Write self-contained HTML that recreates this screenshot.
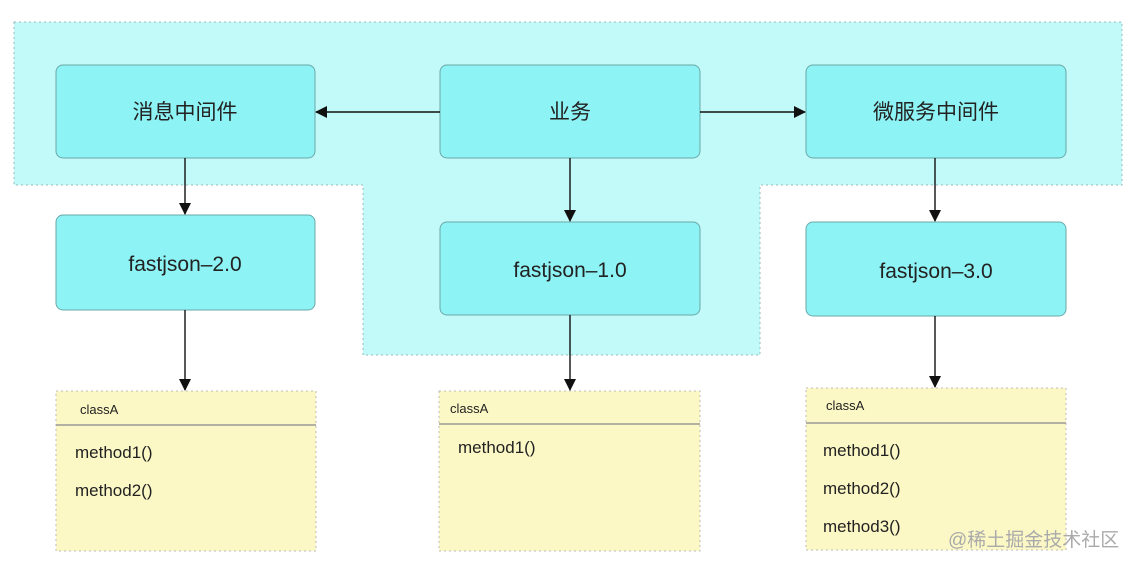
<!DOCTYPE html>
<html><head><meta charset="utf-8"><style>
body{margin:0;background:#fff;width:1143px;height:569px;overflow:hidden;font-family:"Liberation Sans","Noto Sans CJK SC",sans-serif}
</style></head><body>
<svg width="1143" height="569" xmlns="http://www.w3.org/2000/svg" style="position:absolute;left:0;top:0">
<defs><marker id="a" markerWidth="12" markerHeight="12" refX="11" refY="6" orient="auto" markerUnits="userSpaceOnUse"><path d="M0,0 L12,6 L0,12 z" fill="#111"/></marker></defs>
<path d="M14,22 H1122 V185 H760 V355 H363 V185 H14 Z" fill="#c2f9f9" stroke="#9bb" stroke-dasharray="2,3"/>
<g fill="#8ef3f5" stroke="#6aa8a8" stroke-width="1">
<rect x="56" y="65" width="259" height="93" rx="7"/>
<rect x="440" y="65" width="260" height="93" rx="7"/>
<rect x="806" y="65" width="260" height="93" rx="7"/>
<rect x="56" y="215" width="259" height="95" rx="7"/>
<rect x="440" y="222" width="260" height="93" rx="7"/>
<rect x="806" y="222" width="260" height="94" rx="7"/>
</g>
<g fill="#fcf8c6" stroke="#bbb" stroke-dasharray="2,3">
<rect x="56" y="391" width="260" height="160"/>
<rect x="439" y="391" width="261" height="160"/>
<rect x="806" y="388" width="260" height="162"/>
</g>
<g stroke="#999" stroke-width="1.5">
<line x1="56" y1="425" x2="316" y2="425"/>
<line x1="439" y1="424" x2="700" y2="424"/>
<line x1="806" y1="423" x2="1066" y2="423"/>
</g>
<g stroke="#111" stroke-width="1.4" marker-end="url(#a)">
<line x1="440" y1="112" x2="316" y2="112"/>
<line x1="700" y1="112" x2="805" y2="112"/>
<line x1="185" y1="158" x2="185" y2="214"/>
<line x1="570" y1="158" x2="570" y2="221"/>
<line x1="935" y1="158" x2="935" y2="221"/>
<line x1="185" y1="310" x2="185" y2="390"/>
<line x1="570" y1="315" x2="570" y2="390"/>
<line x1="935" y1="316" x2="935" y2="387"/>
</g>
<g font-size="21" fill="#222" text-anchor="middle">
<text x="185" y="119">消息中间件</text>
<text x="570" y="119">业务</text>
<text x="936" y="119">微服务中间件</text>
<text x="185" y="271">fastjson–2.0</text>
<text x="570" y="277">fastjson–1.0</text>
<text x="936" y="278">fastjson–3.0</text>
</g>
<g font-size="13" fill="#222">
<text x="80" y="414">classA</text>
<text x="450" y="413">classA</text>
<text x="826" y="410">classA</text>
</g>
<g font-size="17" fill="#222">
<text x="75" y="458">method1()</text>
<text x="75" y="496">method2()</text>
<text x="458" y="453">method1()</text>
<text x="823" y="456">method1()</text>
<text x="823" y="494">method2()</text>
<text x="823" y="532">method3()</text>
</g>
<text x="948" y="546" font-size="19" fill="#aaa">@稀土掘金技术社区</text>
</svg>
</body></html>
